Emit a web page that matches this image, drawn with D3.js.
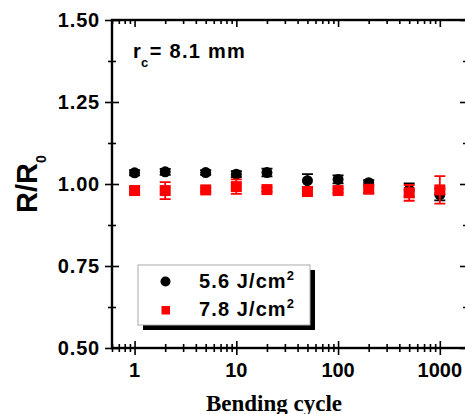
<!DOCTYPE html>
<html>
<head>
<meta charset="utf-8">
<title>R/R0 vs bending cycle</title>
<script src="https://cdn.jsdelivr.net/npm/d3@7"></script>
<style>
  body { margin: 0; background: #fff; }
  svg text { font-family: "Liberation Sans", Arial, sans-serif; font-weight: bold; }
</style>
</head>
<body>
<svg id="chart" width="465" height="414"></svg>
<script>
// data
var cycles = [1, 2, 5, 10, 20, 50, 100, 200, 500, 1000];
var low = [1.034, 1.037, 1.035, 1.030, 1.035, 1.010, 1.014, 1.004, 0.982, 0.968];   // 5.6 J/cm2
var lowErr = [0.008, 0.009, 0.007, 0.009, 0.012, 0.020, 0.012, 0.008, 0.020, 0.018];
var high = [0.980, 0.980, 0.982, 0.992, 0.983, 0.977, 0.980, 0.984, 0.973, 0.982];  // 7.8 J/cm2
var highErr = [0.010, 0.026, 0.006, 0.022, 0.006, 0.008, 0.006, 0.012, 0.024, 0.042];
var yTicks = [0.50, 0.75, 1.00, 1.25, 1.50];
var xTicks = [1, 10, 100, 1000];

var svg = d3.select("#chart");
var pLeft = 112, pRight = 467, pTop = 20, pBottom = 348;

var x = d3.scaleLog().domain([0.6, 1850]).range([pLeft, pRight]);
var y = d3.scaleLinear().domain([0.5, 1.5]).range([pBottom, pTop]);

// minor tick values
var xMinor = [];
[0.1, 1, 10, 100, 1000].forEach(function(d) {
  for (var k = 2; k <= 9; k++) {
    var v = +(d * k).toFixed(4);
    if (v >= 0.6 && v <= 1850 && xTicks.indexOf(v) < 0) xMinor.push(v);
  }
});
var yMinor = [0.625, 0.875, 1.125, 1.375];

function tickStyle(g) {
  g.select(".domain").remove();
  g.selectAll("line").attr("stroke", "#000").attr("stroke-width", 1.6);
}

// left axis: ticks crossing
svg.append("g").attr("transform", "translate(" + (pLeft + 7) + ",0)")
  .call(d3.axisLeft(y).tickValues(yTicks).tickSize(14).tickFormat(""))
  .call(tickStyle);
svg.append("g").attr("transform", "translate(" + (pLeft + 4) + ",0)")
  .call(d3.axisLeft(y).tickValues(yMinor).tickSize(8).tickFormat(""))
  .call(tickStyle);
svg.append("g").selectAll("text").data(yTicks).join("text")
  .attr("x", 100).attr("y", function(d) { return y(d); })
  .attr("dy", "0.36em").attr("text-anchor", "end")
  .attr("font-size", 20).attr("letter-spacing", 0.8)
  .text(function(d) { return d.toFixed(2); });

// bottom axis: ticks crossing
svg.append("g").attr("transform", "translate(0," + (pBottom - 7) + ")")
  .call(d3.axisBottom(x).tickValues(xTicks).tickSize(14).tickFormat(""))
  .call(tickStyle);
svg.append("g").attr("transform", "translate(0," + (pBottom - 4) + ")")
  .call(d3.axisBottom(x).tickValues(xMinor).tickSize(8).tickFormat(""))
  .call(tickStyle);
svg.append("g").selectAll("text").data(xTicks).join("text")
  .attr("x", function(d) { return x(d); }).attr("y", 377)
  .attr("text-anchor", "middle").attr("font-size", 20)
  .text(function(d) { return d; });

// top axis: inward ticks
svg.append("g").attr("transform", "translate(0," + pTop + ")")
  .call(d3.axisBottom(x).tickValues(xTicks).tickSize(7).tickFormat(""))
  .call(tickStyle);
svg.append("g").attr("transform", "translate(0," + pTop + ")")
  .call(d3.axisBottom(x).tickValues(xMinor).tickSize(4).tickFormat(""))
  .call(tickStyle);

// right axis: inward ticks
svg.append("g").attr("transform", "translate(" + pRight + ",0)")
  .call(d3.axisLeft(y).tickValues(yTicks).tickSize(7).tickFormat(""))
  .call(tickStyle);
svg.append("g").attr("transform", "translate(" + pRight + ",0)")
  .call(d3.axisLeft(y).tickValues(yMinor).tickSize(4).tickFormat(""))
  .call(tickStyle);

// frame
svg.append("rect").attr("x", pLeft).attr("y", pTop)
  .attr("width", pRight - pLeft).attr("height", pBottom - pTop)
  .attr("fill", "none").attr("stroke", "#000").attr("stroke-width", 2.4);

// series
function drawSeries(vals, errs, color, shape) {
  var g = svg.append("g");
  var pts = cycles.map(function(c, i) { return { c: c, v: vals[i], e: errs[i] }; });
  g.selectAll(".eb").data(pts).join("path")
    .attr("stroke", color).attr("stroke-width", 1.8).attr("fill", "none")
    .attr("d", function(d) {
      var cx = x(d.c), y0 = y(d.v - d.e), y1 = y(d.v + d.e);
      return "M" + (cx - 5.5) + "," + y1 + "H" + (cx + 5.5) +
             "M" + cx + "," + y1 + "V" + y0 +
             "M" + (cx - 5.5) + "," + y0 + "H" + (cx + 5.5);
    });
  if (shape === "circle") {
    g.selectAll(".pt").data(pts).join("circle")
      .attr("cx", function(d) { return x(d.c); })
      .attr("cy", function(d) { return y(d.v); })
      .attr("r", 5.5).attr("fill", color);
  } else {
    g.selectAll(".pt").data(pts).join("rect")
      .attr("x", function(d) { return x(d.c) - 5.5; })
      .attr("y", function(d) { return y(d.v) - 5.5; })
      .attr("width", 11).attr("height", 11).attr("fill", color);
  }
}
drawSeries(low, lowErr, "#000", "circle");
drawSeries(high, highErr, "#ff0000", "square");

// annotation
var rc = svg.append("text").attr("x", 133).attr("y", 58).attr("font-size", 20).attr("letter-spacing", 1.3);
rc.append("tspan").text("r");
rc.append("tspan").attr("font-size", 13).attr("dx", -1).attr("dy", 9).text("c");
rc.append("tspan").attr("dy", -9).text("= 8.1 mm");

// legend
var lg = svg.append("g");
lg.append("rect").attr("x", 143).attr("y", 270).attr("width", 172).attr("height", 60).attr("fill", "#000");
lg.append("rect").attr("x", 138).attr("y", 265).attr("width", 172).attr("height", 60)
  .attr("fill", "#fff").attr("stroke", "#aaa").attr("stroke-width", 1);
lg.append("circle").attr("cx", 165.5).attr("cy", 281.5).attr("r", 5).attr("fill", "#000");
lg.append("rect").attr("x", 161.5).attr("y", 306).attr("width", 8.5).attr("height", 8.5).attr("fill", "#ff0000");
var labels = ["5.6 J/cm", "7.8 J/cm"];
labels.forEach(function(t, i) {
  var tx = lg.append("text").attr("x", 199).attr("y", 288 + i * 28).attr("font-size", 20).attr("letter-spacing", 1.1);
  tx.append("tspan").text(t);
  tx.append("tspan").attr("font-size", 13).attr("dy", -8).text("2");
});

// axis titles
var yl = svg.append("text").attr("transform", "translate(37,184) rotate(-90)")
  .attr("text-anchor", "middle").attr("font-size", 29);
yl.append("tspan").text("R/R");
yl.append("tspan").attr("font-size", 14).attr("dy", 9).text("0");

svg.append("text").attr("x", 274).attr("y", 411).attr("text-anchor", "middle")
  .attr("font-size", 23).style("font-family", "'Liberation Serif', 'Times New Roman', serif")
  .text("Bending cycle");
</script>
</body>
</html>
